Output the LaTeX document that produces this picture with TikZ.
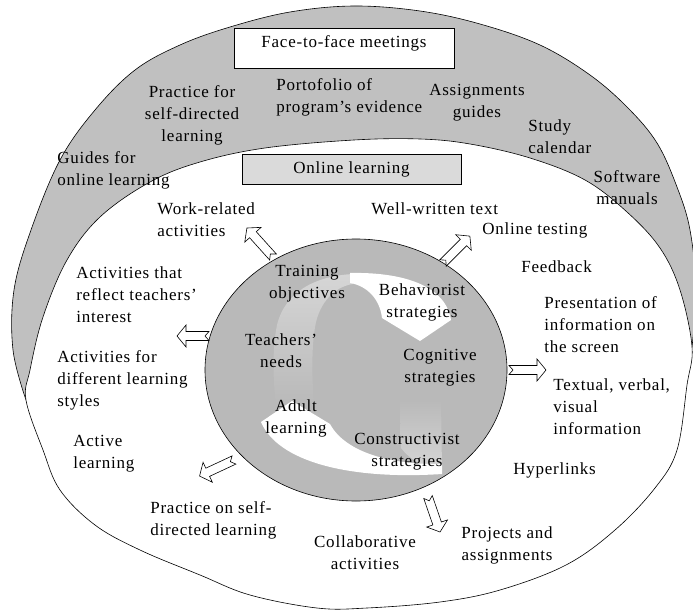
\documentclass[tikz,border=0pt]{standalone}
\usepackage{fontspec}
\setmainfont{Liberation Serif}
\newfontfamily\lbfont[LetterSpace=4.5]{Liberation Serif}
\usetikzlibrary{shapes.geometric}
\definecolor{ringgray}{HTML}{C0C0C0}
\definecolor{discgray}{HTML}{B9B9B9}
\definecolor{bandgray}{HTML}{D6D6D6}
\definecolor{boxgray}{HTML}{DADADA}
\begin{document}
\begin{tikzpicture}[x=1pt,y=-1pt,line width=0.6pt,
  txt/.style={font=\lbfont\fontsize{17}{22}\selectfont,inner sep=0pt},
  lbl/.style={txt,align=left,anchor=west},
  lblc/.style={txt,align=center},
  blockarrow/.style={draw=black,fill=white,line width=0.6pt,line join=miter},
  pics/barrow/.style={code={
    \path[blockarrow] (0,4.5) -- (#1-9,4.5) -- (#1-9,11) -- (#1,0)
      -- (#1-9,-11) -- (#1-9,-4.5) -- (0,-4.5) -- (4,0) -- cycle;}}]
\useasboundingbox (0,0) rectangle (693,610);
\begin{scope}
\clip (0,0) rectangle (693,610);
% outer ring: face-to-face
\filldraw[fill=ringgray] plot[smooth,tension=0.6] coordinates {
  (26,400) (13,350) (14,290) (31,230) (60,160) (95,110) (135,70) (180,45)
  (230,27) (290,12) (354,6) (420,11) (480,24) (540,45) (590,75) (628,108)
  (657,143) (677,187) (690,230) (696,290) (692,347)} -- cycle;
% inner region: online learning
\filldraw[fill=white] plot[smooth cycle,tension=0.6] coordinates {
  (354,140) (420,139) (470,144) (530,158) (585,180) (627,212) (660,248)
  (680,290) (692,347) (687,385) (677,450) (655,488) (615,530) (566,565)
  (500,590) (440,602) (367,608) (317,608) (250,595) (200,575) (140,550)
  (95,525) (60,490) (43,450) (26,400) (30,370) (43,317) (67,260) (100,217)
  (150,182) (200,162) (265,148)};
\end{scope}

% title boxes
\node[draw,fill=white,minimum width=220pt,minimum height=40pt,txt,
      text depth=12pt] (face) at (344,48) {Face-to-face meetings};
\node[draw,fill=boxgray,minimum width=219pt,minimum height=30pt,txt]
      (online) at (351.5,169) {Online learning};

% central disc with the two cycle arrows
\node[ellipse,draw,fill=discgray,minimum width=302pt,minimum height=262pt,
      inner sep=0pt] (disc) at (356,370) {};
\shade[top color=bandgray,bottom color=discgray]
  (353,274) .. controls (315,276) and (285,292) .. (277,325)
  .. controls (272,350) and (273,380) .. (276,405) -- (314,405)
  .. controls (312,380) and (311,345) .. (316,322)
  .. controls (322,298) and (338,286) .. (353,284) -- cycle;
\fill[white] (350,273) .. controls (395,272) and (445,282) .. (451,320)
  -- (420,341) -- (382,318) .. controls (380,300) and (368,286) .. (350,283)
  -- cycle;
\shade[top color=discgray,bottom color=bandgray]
  (400,400) -- (441,400) -- (442,470) .. controls (425,468) and (410,460)
  .. (401,448) -- cycle;
\fill[white] (442,474) .. controls (350,480) and (278,462) .. (261,422)
  -- (292,401) -- (330,424) .. controls (345,452) and (390,465) .. (442,464)
  -- cycle;

% block arrows leaving the disc
\coordinate (t1) at (273,257);
\coordinate (t2) at (443,263);
\coordinate (t3) at (209,336);
\coordinate (t4) at (509,370);
\coordinate (t5) at (234,460);
\coordinate (t6) at (428,497);
\pic[rotate=132] at (t1) {barrow=39};
\pic[rotate=45]  at (t2) {barrow=38};
\pic[rotate=180] at (t3) {barrow=32};
\pic[rotate=0]   at (t4) {barrow=37};
\pic[rotate=-155] at (t5) {barrow=38};
\pic[rotate=-71] at (t6) {barrow=37};

% outer ring labels
\node[lblc] (practice1) at (192,115) {Practice for\\self-directed\\learning};
\node[lbl] (portfolio) at (276,97.5) {Portofolio of\\program’s evidence};
\node[lblc] (assign) at (477,102.5) {Assignments\\guides};
\node[lbl] (study) at (528,137) {Study\\calendar};
\node[lbl] (guides) at (57,170.5) {Guides for\\online learning};
\node[lblc] (software) at (627,188) {Software\\manuals};

% online learning labels
\node[lbl] (work) at (157,220) {Work-related\\activities};
\node[lbl] (wellwritten) at (371,209) {Well-written text};
\node[lbl] (testing) at (482,230) {Online testing};
\node[lbl] (feedback) at (521,267) {Feedback};
\node[lbl] (reflect) at (76,295) {Activities that\\reflect teachers’\\interest};
\node[lbl] (presentation) at (544,325) {Presentation of\\information on\\the screen};
\node[lbl] (different) at (57,380) {Activities for\\different learning\\styles};
\node[lbl] (textual) at (553,407) {Textual, verbal,\\visual\\information};
\node[lbl] (active) at (73,453.5) {Active\\learning};
\node[lbl] (hyperlinks) at (513,470) {Hyperlinks};
\node[lbl] (practice2) at (150,520) {Practice on self-\\directed learning};
\node[lblc] (collab) at (365,553) {Collaborative\\activities};
\node[lblc] (projects) at (507,545.5) {Projects and\\assignments};

% disc labels
\node[lblc] (training) at (307,284) {Training\\objectives};
\node[lblc] (behav) at (422,302.5) {Behaviorist\\strategies};
\node[lblc] (teachers) at (281,351) {Teachers’\\needs};
\node[lblc] (cognitive) at (440,368) {Cognitive\\strategies};
\node[lblc] (adult) at (296,418.5) {Adult\\learning};
\node[lblc] (constr) at (407,452) {Constructivist\\strategies};
\end{tikzpicture}
\end{document}
